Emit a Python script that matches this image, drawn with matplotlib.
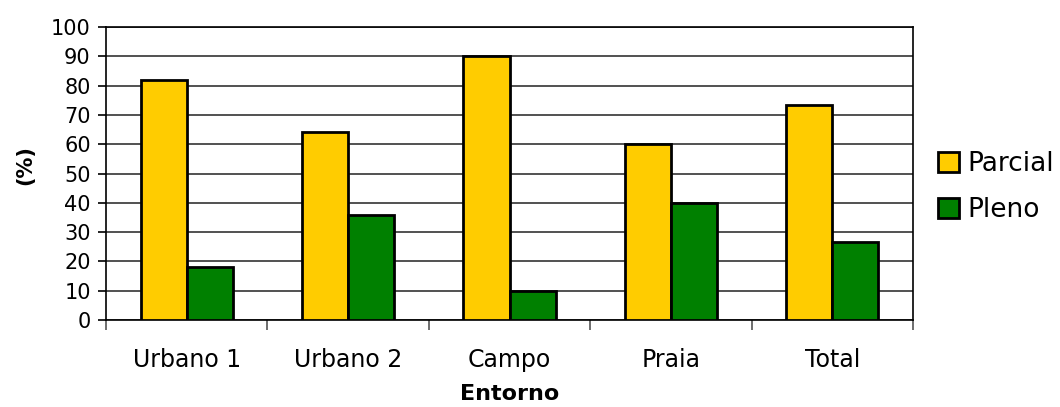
import matplotlib
matplotlib.use("Agg")
import matplotlib.pyplot as plt
import numpy as np
from matplotlib.patches import Patch

categories = ["Urbano 1", "Urbano 2", "Campo", "Praia", "Total"]
parcial = [82, 64, 90, 60, 73.4]
pleno = [18, 36, 10, 40, 26.6]
series_names = ["Parcial", "Pleno"]
colors = ["#FFCC00", "#008000"]

plt.rcParams["font.family"] = ["DejaVu Sans"]

fig = plt.figure(figsize=(10.6, 4.07), dpi=100)
ax = fig.add_axes([106 / 1060, 1 - 320 / 407, (913 - 106) / 1060, (320 - 27) / 407])

x = np.arange(len(categories))
w = 0.2857
for vals, off, col in [(parcial, -w / 2, colors[0]), (pleno, w / 2, colors[1])]:
    ax.bar(x + off, vals, width=w, color=col, edgecolor="black", linewidth=2, zorder=3)

ax.set_xlim(-0.5, len(categories) - 0.5)
ax.set_ylim(0, 100)
ax.set_yticks(np.arange(0, 101, 10))
ax.yaxis.grid(True, color="#333333", linewidth=1.2, zorder=0)
ax.set_axisbelow(True)

for s in ax.spines.values():
    s.set_color("black")
    s.set_linewidth(1.2)

ax.set_xticks(x)
ax.set_xticklabels(categories, fontsize=17)
ax.tick_params(axis="x", length=0, pad=20)
ax.set_xticks(np.arange(-0.5, len(categories), 1), minor=True)
ax.tick_params(axis="x", which="minor", length=7, width=1.2, color="#555555")
ax.tick_params(axis="y", length=6, width=1.2, labelsize=15, pad=5)

ax.set_xlabel("Entorno", fontsize=16, fontweight="bold", labelpad=9)
fig.text(25 / 1060, 1 - 165 / 407, "(%)", fontsize=15, fontweight="bold",
         rotation=90, ha="center", va="center")

handles = [Patch(facecolor=c, edgecolor="black", linewidth=2) for c in colors]
fig.legend(handles, series_names, loc="center left", bbox_to_anchor=(938 / 1060, 1 - 187 / 407),
           frameon=False, fontsize=19, handlelength=0.8, handleheight=0.8,
           handletextpad=0.3, labelspacing=0.75, borderaxespad=0, borderpad=0)

fig.savefig("out.png", dpi=100)
